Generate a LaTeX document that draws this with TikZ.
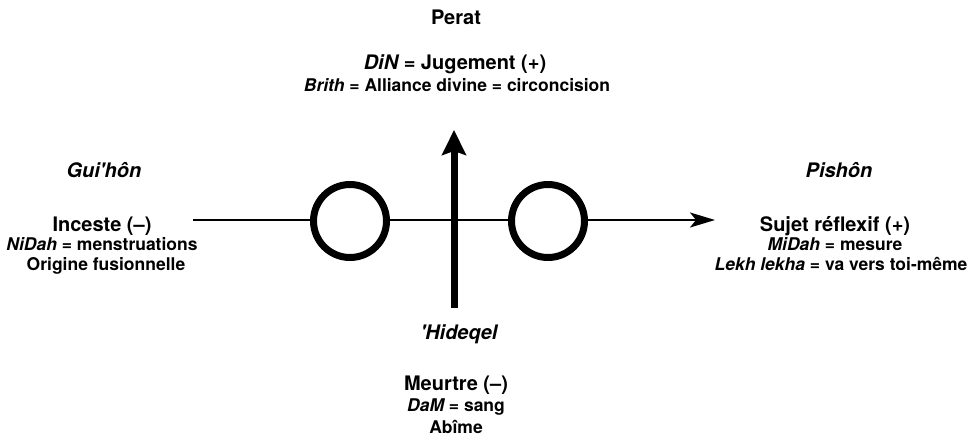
\documentclass[tikz,border=0pt]{standalone}
\usepackage{fontspec}
\setmainfont{TeX Gyre Heros}
\usetikzlibrary{arrows.meta}
\tikzset{
  big/.style={font=\fontsize{20}{24}\selectfont\bfseries, anchor=base, inner sep=0pt},
  small/.style={font=\fontsize{17.5}{21}\selectfont\bfseries, anchor=base, inner sep=0pt},
  ring/.style={circle, draw=black, fill=white, line width=7pt, minimum size=73pt, inner sep=0pt},
  axis/.style={line width=2pt, -{Stealth[length=25pt, width=15pt, inset=6pt]}},
  stem/.style={line width=7pt, -{Stealth[length=25pt, width=24pt, inset=4pt]}}
}
\begin{document}
\begin{tikzpicture}[x=1pt, y=-1pt]
\useasboundingbox (0,0) rectangle (971,439);

% horizontal axis with its two rings
\coordinate (hstart) at (193,220);
\coordinate (hend) at (715,220);
\draw[axis] (hstart) -- (hend);
\node[ring] (ringL) at (350,221) {};
\node[ring] (ringR) at (548,221) {};

% vertical axis
\coordinate (vstart) at (454,308);
\coordinate (vend) at (454,130);
\draw[stem] (vstart) -- (vend);

% top: Perat
\node[big] (perat) at (456,24) {Perat};
\node[big] (din) at (455,69) {\itshape DiN\upshape{} = Jugement (+)};
\node[small] (brith) at (457,91) {\itshape Brith\upshape{} = Alliance divine = circoncision};

% left: Gui'hôn
\node[big] (guihon) at (104,177) {\itshape Gui\textquotesingle hôn};
\node[big] (inceste) at (102,231) {Inceste (–)};
\node[small] (nidah) at (102,250) {\itshape NiDah\upshape{} = menstruations};
\node[small] (origine) at (106,270) {Origine fusionnelle};

% right: Pishôn
\node[big] (pishon) at (839,177) {\itshape Pishôn};
\node[big] (sujet) at (835,231) {Sujet réflexif (+)};
\node[small] (midah) at (835,250) {\itshape MiDah\upshape{} = mesure};
\node[small] (lekh) at (841,270) {\itshape Lekh lekha\upshape{} = va vers toi-même};

% bottom: 'Hideqel
\node[big] (hideqel) at (459,339) {\itshape \textquotesingle Hideqel};
\node[big] (meurtre) at (456,390) {Meurtre (–)};
\node[small] (dam) at (456,411) {\itshape DaM\upshape{} = sang};
\node[small] (abime) at (456,433) {Abîme};
\end{tikzpicture}
\end{document}
